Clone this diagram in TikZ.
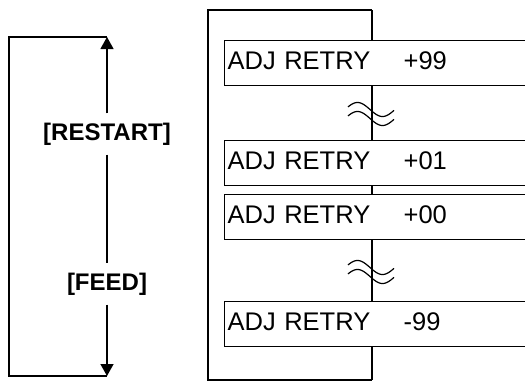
\documentclass[tikz,border=0pt]{standalone}
\usepackage{fontspec}
\setmainfont{Liberation Sans}
\usetikzlibrary{arrows.meta}

\begin{document}
\begin{tikzpicture}[x=1pt, y=-1pt, line width=1.3pt,
    retrybox/.style={draw, rectangle, anchor=north west, minimum width=330pt,
      minimum height=45pt, text width=324pt, align=left, inner xsep=3pt,
      font=\fontsize{25.5}{30}\selectfont},
    keylabel/.style={inner sep=0pt, minimum height=40pt,
      font=\fontsize{24}{28}\selectfont\bfseries},
    tip/.style={-{Triangle[length=12pt,width=13pt]}},
    wave/.style={line width=1.2pt}]
        \useasboundingbox (0,0) rectangle (525,381);
        \begin{scope}[]
        % Key loop on the left
        \coordinate (looptop) at (107,37);
        \coordinate (loopbot) at (107,376);
        \coordinate (loopNW) at (9,37);
        \coordinate (loopSW) at (9,376);
        \node (restart) at (107,134) [keylabel] {[RESTART]};
        \node (feed) at (107,284) [keylabel] {[FEED]};
        \draw (looptop) -- (loopNW) -- (loopSW) -- (loopbot);
        \draw[tip] (restart) -- (looptop);
        \draw (restart) -- (feed);
        \draw[tip] (feed) -- (loopbot);

        % Display frame on the right
        \coordinate (frametop) at (372,10);
        \coordinate (framebot) at (372,380);
        \coordinate (frameNW) at (208,10);
        \coordinate (frameSW) at (208,380);
        \draw (frametop) -- (frameNW) -- (frameSW) -- (framebot);

        % Display messages
        \node (adj99) at (224,40) [retrybox] {\strut\makebox[176pt][l]{ADJ RETRY}+99};
        \node (adj01) at (224,140) [retrybox] {\strut\makebox[176pt][l]{ADJ RETRY}+01};
        \node (adj00) at (224,194) [retrybox] {\strut\makebox[176pt][l]{ADJ RETRY}+00};
        \node (adjm99) at (224,301) [retrybox] {\strut\makebox[176pt][l]{ADJ RETRY}-99};

        % Links between messages
        \draw (frametop) -- (frametop |- adj99.north);
        \draw (frametop |- adj99.south) -- (frametop |- adj01.north);
        \draw (frametop |- adj01.south) -- (frametop |- adj00.north);
        \draw (frametop |- adj00.south) -- (frametop |- adjm99.north);
        \draw (frametop |- adjm99.south) -- (framebot);

        % Break marks
        \coordinate (gapA) at (372,114);
        \coordinate (gapB) at (372,272);
        \foreach \gap in {gapA,gapB}
        {
            \foreach \dy in {-4.5,4.5}
                \draw[wave, shift={(\gap)}] plot[domain=-24:22, samples=40, smooth]
                    ({\x}, {\dy+7*sin((\x+2)*360/50)});
        }
        \end{scope}
    \end{tikzpicture}
\end{document}
